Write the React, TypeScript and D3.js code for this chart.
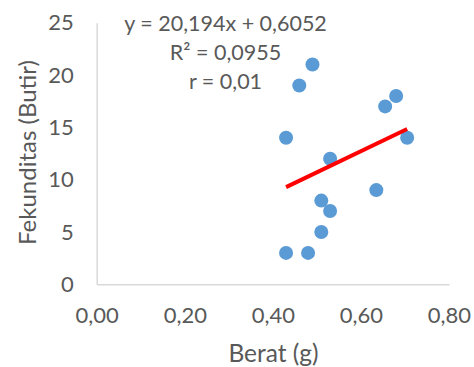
import { useEffect, useRef } from "react";
import * as d3 from "d3";

// data
const berat = [0.43, 0.46, 0.49, 0.53, 0.51, 0.53, 0.51, 0.43, 0.48, 0.635, 0.655, 0.68, 0.705];
const fekunditas = [14, 19, 21, 12, 8, 7, 5, 3, 3, 9, 17, 18, 14];
const xTicks = [0, 0.2, 0.4, 0.6, 0.8];
const yTicks = [0, 5, 10, 15, 20, 25];
// regression line as printed on the chart
const slope = 20.194;
const intercept = 0.6052;
const labels = ["y = 20,194x + 0,6052", "R² = 0,0955", "r = 0,01"];

const W = 474;
const H = 367;
const FONT = "Lato, 'Open Sans', sans-serif";
const TEXT = "#595959";

const App = () => {
  const svgRef = useRef<SVGSVGElement>(null);

  useEffect(() => {
    if (!svgRef.current) return;
    const svg = d3.select(svgRef.current);
    svg.selectAll("*").remove();

    const margin = { left: 96.7, right: 25, top: 22.7, bottom: 82.7 };

    const x = d3.scaleLinear().domain([0, 0.8]).range([margin.left, W - margin.right]);
    const y = d3.scaleLinear().domain([0, 25]).range([H - margin.bottom, margin.top]);

    const comma = (f: string) => f.replace(".", ",");

    // axe x
    const xAxis = svg
      .append("g")
      .attr("transform", `translate(0, ${y(0)})`)
      .call(
        d3
          .axisBottom(x)
          .tickValues(xTicks)
          .tickSize(0)
          .tickPadding(23)
          .tickFormat((d) => comma(d3.format(".2f")(d as number)))
      );
    xAxis.select(".domain").attr("stroke", "#d9d9d9").attr("stroke-width", 1.5);
    xAxis
      .selectAll("text")
      .attr("fill", TEXT)
      .style("font-family", FONT)
      .style("font-size", "22px");

    // axe y
    const yAxis = svg
      .append("g")
      .attr("transform", `translate(${x(0)}, 0)`)
      .call(d3.axisLeft(y).tickValues(yTicks).tickSize(0).tickPadding(23));
    yAxis.select(".domain").attr("stroke", "#d9d9d9").attr("stroke-width", 1.5);
    yAxis
      .selectAll("text")
      .attr("fill", TEXT)
      .style("font-family", FONT)
      .style("font-size", "22px");

    // points
    svg
      .append("g")
      .selectAll("circle")
      .data(berat.map((b, i) => [b, fekunditas[i]]))
      .enter()
      .append("circle")
      .attr("cx", (d) => x(d[0]))
      .attr("cy", (d) => y(d[1]))
      .attr("r", 7)
      .attr("fill", "#5b9bd5");

    // garis tren
    const xr = d3.extent(berat) as [number, number];
    const line = d3
      .line<number>()
      .x((d) => x(d))
      .y((d) => y(slope * d + intercept));
    svg
      .append("path")
      .attr("d", line(xr))
      .attr("stroke", "#ff0000")
      .attr("stroke-width", 4)
      .attr("fill", "none");

    // persamaan
    labels.forEach((t, i) => {
      svg
        .append("text")
        .attr("x", 225.5)
        .attr("y", 30.7 + i * 29.3)
        .attr("text-anchor", "middle")
        .attr("fill", TEXT)
        .style("font-family", FONT)
        .style("font-size", "21.5px")
        .text(t);
    });

    // judul sumbu
    svg
      .append("text")
      .attr("x", 273.5)
      .attr("y", 362)
      .attr("text-anchor", "middle")
      .attr("fill", TEXT)
      .style("font-family", FONT)
      .style("font-size", "24.5px")
      .text("Berat (g)");

    svg
      .append("text")
      .attr("transform", `translate(36, 152.5) rotate(-90)`)
      .attr("text-anchor", "middle")
      .attr("fill", TEXT)
      .style("font-family", FONT)
      .style("font-size", "24px")
      .text("Fekunditas (Butir)");
  }, []);

  return (
    <svg
      ref={svgRef}
      width={W}
      height={H}
      style={{ position: "absolute", left: 0, top: 0, background: "#fff" }}
    ></svg>
  );
};

export default App;
